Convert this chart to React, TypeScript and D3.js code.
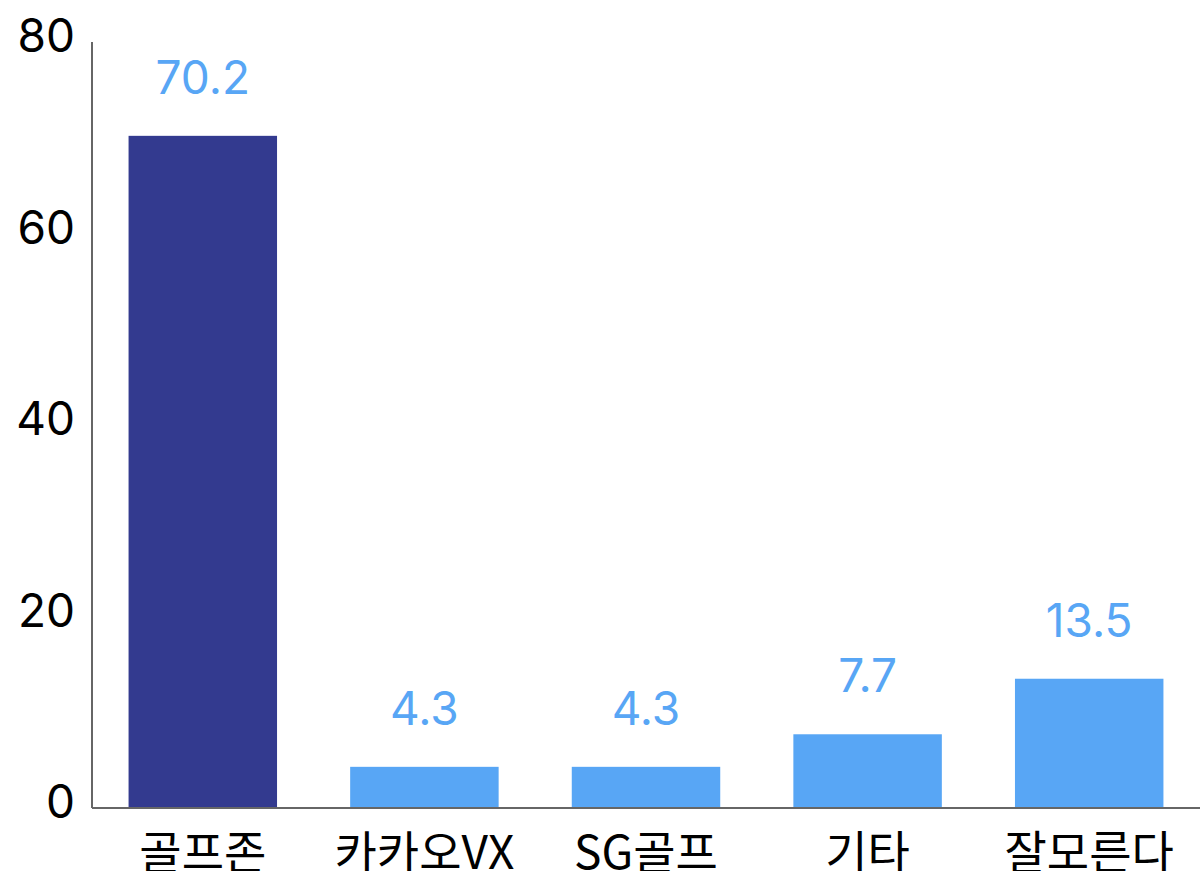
import React from 'react';
import * as d3 from 'd3';

const categories = ['골프존', '카카오VX', 'SG골프', '기타', '잘모른다'];
const values = [70.2, 4.3, 4.3, 7.7, 13.5];
const yTicks = [0, 20, 40, 60, 80];

const width = 1200;
const height = 871;
const margin = { top: 42, right: 0, bottom: 63, left: 92 };

const App: React.FC = () => {
  const x = d3
    .scaleBand<string>()
    .domain(categories)
    .range([margin.left, width - margin.right])
    .paddingInner(0.33)
    .paddingOuter(0.165);

  const y = d3
    .scaleLinear()
    .domain([0, 80])
    .range([height - margin.bottom, margin.top]);

  const numFont = "Inter, 'Noto Sans', sans-serif";
  const krFont = "'Noto Sans CJK KR', 'Noto Sans', sans-serif";

  return (
    <svg
      width={width}
      height={height}
      style={{ position: 'absolute', left: 0, top: 0, background: '#fff' }}
    >
      {values.map((v, i) => (
        <g key={categories[i]}>
          <rect
            x={x(categories[i])}
            y={y(v)}
            width={x.bandwidth()}
            height={y(0) - y(v)}
            fill={i === 0 ? '#333a8f' : '#58a6f5'}
          />
          <text
            x={(x(categories[i]) ?? 0) + x.bandwidth() / 2}
            y={y(v) - 42}
            textAnchor="middle"
            fontFamily={numFont}
            fontSize={46}
            fill="#58a6f5"
          >
            {v.toFixed(1)}
          </text>
          <text
            x={(x(categories[i]) ?? 0) + x.bandwidth() / 2}
            y={height - 2}
            textAnchor="middle"
            fontFamily={krFont}
            fontSize={46}
            fill="#000"
          >
            {categories[i]}
          </text>
        </g>
      ))}
      {yTicks.map((t) => (
        <text
          key={t}
          x={margin.left - 17}
          y={y(t) + 10}
          textAnchor="end"
          fontFamily={numFont}
          fontSize={46}
          fill="#000"
        >
          {t}
        </text>
      ))}
      <line
        x1={margin.left}
        x2={margin.left}
        y1={margin.top}
        y2={y(0)}
        stroke="#666"
        strokeWidth={2}
      />
      <line
        x1={margin.left}
        x2={width}
        y1={y(0)}
        y2={y(0)}
        stroke="#666"
        strokeWidth={2}
      />
    </svg>
  );
};

export default App;
